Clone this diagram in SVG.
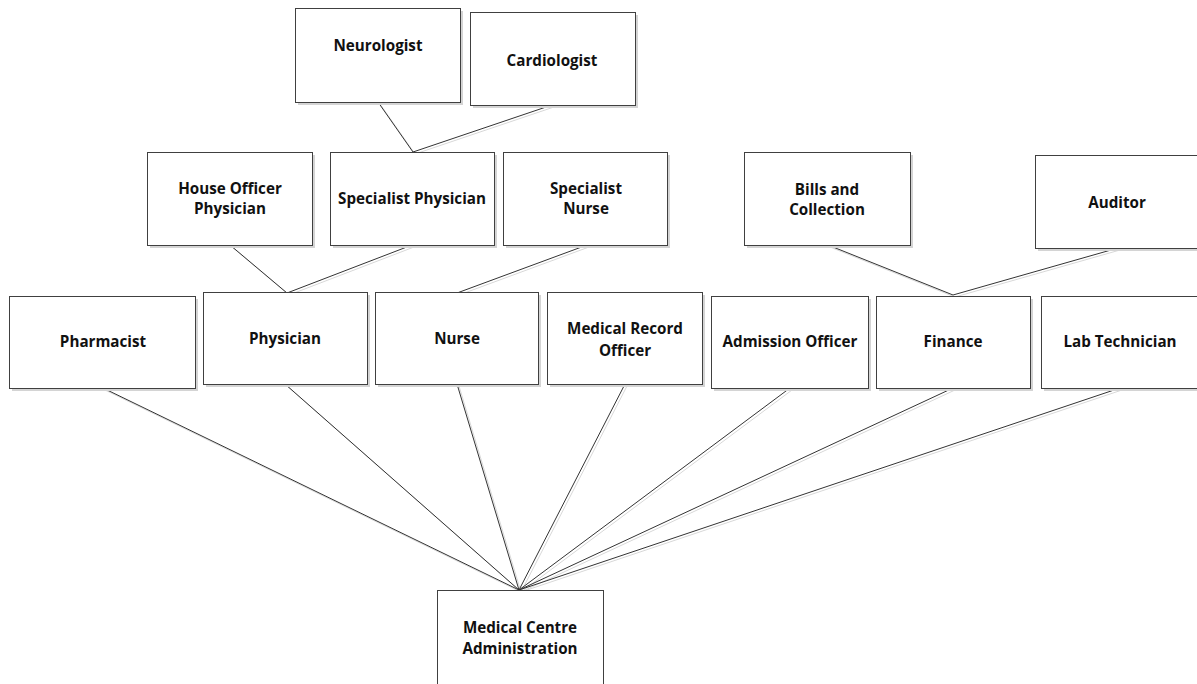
<svg xmlns="http://www.w3.org/2000/svg" width="1197" height="684" viewBox="0 0 1197 684">
  <style>
    .box { fill: #ffffff; stroke: #404040; stroke-width: 1; }
    .shadow { fill: #d4d4d4; }
    .lbl { font-family: "Open Sans", "Liberation Sans", sans-serif; font-weight: bold; font-size: 15.2px; fill: #111111; text-anchor: middle; }
    .link { stroke: #333333; stroke-width: 1; fill: none; }
    .link-shadow { stroke: #d8d8d8; stroke-width: 1; fill: none; }
  </style>
  <rect width="1197" height="684" fill="#ffffff"/>

  <!-- connectors -->
  <g id="connectors">
    <g transform="translate(2,2)">
      <polyline class="link-shadow" points="378,102 413,152 552,105"/>
      <polyline class="link-shadow" points="230,245 287,293 412,245"/>
      <line class="link-shadow" x1="587" y1="245" x2="457" y2="293"/>
      <polyline class="link-shadow" points="828,245 953,295 1118,248"/>
      <line class="link-shadow" x1="103" y1="388" x2="519" y2="590"/>
      <line class="link-shadow" x1="285" y1="384" x2="519" y2="590"/>
      <line class="link-shadow" x1="457" y1="384" x2="519" y2="590"/>
      <line class="link-shadow" x1="625" y1="384" x2="519" y2="590"/>
      <line class="link-shadow" x1="790" y1="388" x2="519" y2="590"/>
      <line class="link-shadow" x1="953" y1="388" x2="519" y2="590"/>
      <line class="link-shadow" x1="1120" y1="388" x2="519" y2="590"/>
    </g>
    <polyline class="link" points="378,102 413,152 552,105"/>
    <polyline class="link" points="230,245 287,293 412,245"/>
    <line class="link" x1="587" y1="245" x2="457" y2="293"/>
    <polyline class="link" points="828,245 953,295 1118,248"/>
    <line class="link" x1="103" y1="388" x2="519" y2="590"/>
    <line class="link" x1="285" y1="384" x2="519" y2="590"/>
    <line class="link" x1="457" y1="384" x2="519" y2="590"/>
    <line class="link" x1="625" y1="384" x2="519" y2="590"/>
    <line class="link" x1="790" y1="388" x2="519" y2="590"/>
    <line class="link" x1="953" y1="388" x2="519" y2="590"/>
    <line class="link" x1="1120" y1="388" x2="519" y2="590"/>
  </g>

  <!-- top tier -->
  <g id="neurologist">
    <rect class="shadow" x="298" y="11" width="165" height="94"/>
    <rect class="box" x="295.5" y="8.5" width="165" height="94"/>
    <text class="lbl" x="378" y="51">Neurologist</text>
  </g>
  <g id="cardiologist">
    <rect class="shadow" x="473" y="15" width="165" height="93"/>
    <rect class="box" x="470.5" y="12.5" width="165" height="93"/>
    <text class="lbl" x="552" y="66">Cardiologist</text>
  </g>

  <!-- second tier -->
  <g id="house-officer-physician">
    <rect class="shadow" x="150" y="155" width="165" height="93"/>
    <rect class="box" x="147.5" y="152.5" width="165" height="93"/>
    <text class="lbl" x="230" y="194">House Officer</text>
    <text class="lbl" x="230" y="214">Physician</text>
  </g>
  <g id="specialist-physician">
    <rect class="shadow" x="333" y="155" width="164" height="93"/>
    <rect class="box" x="330.5" y="152.5" width="164" height="93"/>
    <text class="lbl" x="412" y="204">Specialist Physician</text>
  </g>
  <g id="specialist-nurse">
    <rect class="shadow" x="506" y="155" width="164" height="93"/>
    <rect class="box" x="503.5" y="152.5" width="164" height="93"/>
    <text class="lbl" x="586" y="194">Specialist</text>
    <text class="lbl" x="586" y="214">Nurse</text>
  </g>
  <g id="bills-and-collection">
    <rect class="shadow" x="747" y="155" width="166" height="93"/>
    <rect class="box" x="744.5" y="152.5" width="166" height="93"/>
    <text class="lbl" x="827" y="195">Bills and</text>
    <text class="lbl" x="827" y="215">Collection</text>
  </g>
  <g id="auditor">
    <rect class="shadow" x="1038" y="158" width="166" height="93"/>
    <rect class="box" x="1035.5" y="155.5" width="166" height="93"/>
    <text class="lbl" x="1117" y="208">Auditor</text>
  </g>

  <!-- third tier -->
  <g id="pharmacist">
    <rect class="shadow" x="12" y="299" width="186" height="92"/>
    <rect class="box" x="9.5" y="296.5" width="186" height="92"/>
    <text class="lbl" x="103" y="347">Pharmacist</text>
  </g>
  <g id="physician">
    <rect class="shadow" x="206" y="295" width="164" height="92"/>
    <rect class="box" x="203.5" y="292.5" width="164" height="92"/>
    <text class="lbl" x="285" y="344">Physician</text>
  </g>
  <g id="nurse">
    <rect class="shadow" x="378" y="295" width="163" height="92"/>
    <rect class="box" x="375.5" y="292.5" width="163" height="92"/>
    <text class="lbl" x="457" y="344">Nurse</text>
  </g>
  <g id="medical-record-officer">
    <rect class="shadow" x="550" y="295" width="155" height="92"/>
    <rect class="box" x="547.5" y="292.5" width="155" height="92"/>
    <text class="lbl" x="625" y="334">Medical Record</text>
    <text class="lbl" x="625" y="356">Officer</text>
  </g>
  <g id="admission-officer">
    <rect class="shadow" x="714" y="299" width="157" height="92"/>
    <rect class="box" x="711.5" y="296.5" width="157" height="92"/>
    <text class="lbl" x="790" y="347">Admission Officer</text>
  </g>
  <g id="finance">
    <rect class="shadow" x="879" y="299" width="154" height="92"/>
    <rect class="box" x="876.5" y="296.5" width="154" height="92"/>
    <text class="lbl" x="953" y="347">Finance</text>
  </g>
  <g id="lab-technician">
    <rect class="shadow" x="1044" y="299" width="160" height="92"/>
    <rect class="box" x="1041.5" y="296.5" width="160" height="92"/>
    <text class="lbl" x="1120" y="347">Lab Technician</text>
  </g>

  <!-- root -->
  <g id="medical-centre-administration">
    <rect class="box" x="437.5" y="590.5" width="166" height="100"/>
    <text class="lbl" x="520" y="633">Medical Centre</text>
    <text class="lbl" x="520" y="654">Administration</text>
  </g>
</svg>
